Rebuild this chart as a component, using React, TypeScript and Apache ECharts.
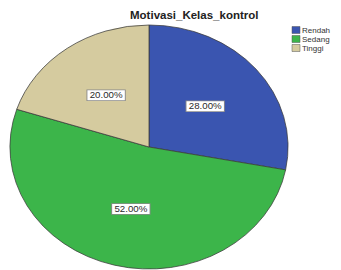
import React, { useEffect, useRef } from "react";
import * as echarts from "echarts";

const categories = ["Rendah", "Sedang", "Tinggi"];
const percentages = [28, 52, 20];
const colors = ["#3a55b0", "#3cb54a", "#d5cb9f"];
const chartTitle = "Motivasi_Kelas_kontrol";

export default function App() {
  const pieRef = useRef<HTMLDivElement>(null);
  const overRef = useRef<HTMLDivElement>(null);

  useEffect(() => {
    if (!pieRef.current || !overRef.current) return;
    const pie = echarts.init(pieRef.current, undefined, { renderer: "svg" });
    const over = echarts.init(overRef.current, undefined, { renderer: "svg" });

    pie.setOption({
      animation: false,
      series: [
        {
          type: "pie",
          center: [149, 147],
          radius: 122,
          startAngle: 90,
          clockwise: true,
          silent: true,
          itemStyle: { borderColor: "#3a3a3a", borderWidth: 0.7 },
          label: {
            show: true,
            position: "inside",
            formatter: (p: any) => Number(p.value).toFixed(2) + "%",
            fontFamily: "Liberation Sans, Arial, sans-serif",
            fontSize: 8.5,
            color: "#2a2a2a",
            backgroundColor: "#ffffff",
            borderColor: "#8a8a8a",
            borderWidth: 0.8,
            padding: [1, 2, 0, 2],
          },
          labelLine: { show: false },
          data: categories.map((c, i) => ({
            name: c,
            value: percentages[i],
            itemStyle: { color: colors[i] },
          })),
        },
      ],
    });

    over.setOption({
      animation: false,
      title: {
        text: chartTitle,
        left: 125,
        top: 4,
        textStyle: {
          fontFamily: "Liberation Sans, Arial, sans-serif",
          fontSize: 11.5,
          fontWeight: "bold",
          color: "#222",
        },
      },
      graphic: categories.flatMap((c, i) => [
        {
          type: "rect",
          shape: { x: 292, y: 26.5 + i * 9, width: 8, height: 7 },
          style: { fill: colors[i], stroke: "#555", lineWidth: 0.5 },
        },
        {
          type: "text",
          x: 302,
          y: 30 + i * 9,
          style: {
            text: c,
            fontFamily: "Liberation Sans, Arial, sans-serif",
            fontSize: 8,
            fill: "#333",
            textVerticalAlign: "middle",
          },
        },
      ]),
    });

    return () => {
      pie.dispose();
      over.dispose();
    };
  }, []);

  return (
    <div style={{ position: "absolute", left: 0, top: 0, width: 341, height: 270, overflow: "hidden", background: "#fff" }}>
      <div
        ref={pieRef}
        style={{
          position: "absolute",
          left: 0,
          top: 0,
          width: 341,
          height: 270,
          transformOrigin: "149px 147px",
          transform: "scaleX(1.14)",
        }}
      />
      <div ref={overRef} style={{ position: "absolute", left: 0, top: 0, width: 341, height: 270 }} />
    </div>
  );
}
